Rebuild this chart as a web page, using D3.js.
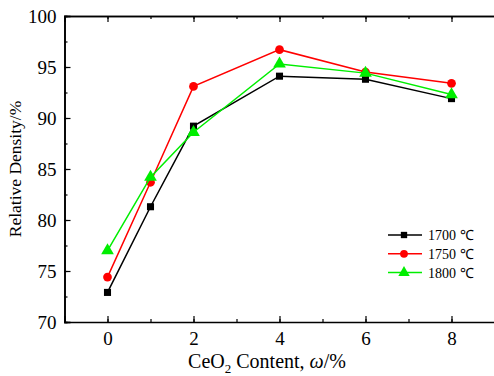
<!DOCTYPE html>
<html>
<head>
<meta charset="utf-8">
<script src="https://d3js.org/d3.v7.min.js"></script>
<style>
  body { margin: 0; background: #fff; }
</style>
</head>
<body>
<div id="chart"></div>
<script>
// CeO2 content (wt%)
const contents = [0, 1, 2, 4, 6, 8];
const series = ["1700 ℃", "1750 ℃", "1800 ℃"];
const density1700 = [72.9, 81.3, 89.2, 94.1, 93.8, 91.9];
const density1750 = [74.4, 83.7, 93.1, 96.7, 94.5, 93.4];
const density1800 = [77.0, 84.2, 88.6, 95.3, 94.4, 92.3];
const xTicks = [0, 2, 4, 6, 8];
const yTicks = [70, 75, 80, 85, 90, 95, 100];

const colors = ["#000000", "#ff0000", "#00ee00"];
const shapes = [d3.symbolSquare, d3.symbolCircle, d3.symbolTriangle];
const sizes = [50, 60, 70];
const values = [density1700, density1750, density1800];
const serif = "'Liberation Serif', 'Times New Roman', serif";

const width = 494, height = 376;
const margin = { top: 16, right: 0, bottom: 54, left: 64.5 };

const svg = d3.select("#chart").append("svg")
  .attr("width", width)
  .attr("height", height);

const x = d3.scaleLinear().domain([-1, 9]).range([margin.left, margin.left + 430]);
const y = d3.scaleLinear().domain([70, 100]).range([height - margin.bottom, margin.top]);

const minorX = d3.range(-1, 10, 1);
const minorY = d3.range(70, 100.1, 2.5);

// bottom axis
svg.append("g").attr("transform", `translate(0,${y(70)})`)
  .call(d3.axisBottom(x).tickValues(minorX).tickSize(-3).tickFormat(""))
  .call(g => g.select(".domain").remove());
svg.append("g").attr("transform", `translate(0,${y(70)})`)
  .call(d3.axisBottom(x).tickValues(xTicks).tickSize(-6).tickPadding(10).tickFormat(d3.format("d")));

// top axis (mirror ticks)
svg.append("g").attr("transform", `translate(0,${y(100)})`)
  .call(d3.axisTop(x).tickValues(minorX).tickSize(-3).tickFormat(""));
svg.append("g").attr("transform", `translate(0,${y(100)})`)
  .call(d3.axisTop(x).tickValues(xTicks).tickSize(-6).tickFormat(""));

// left axis
svg.append("g").attr("transform", `translate(${x(-1)},0)`)
  .call(d3.axisLeft(y).tickValues(minorY).tickSize(-3).tickFormat(""));
svg.append("g").attr("transform", `translate(${x(-1)},0)`)
  .call(d3.axisLeft(y).tickValues(yTicks).tickSize(-6).tickPadding(8).tickFormat(d3.format("d")));

svg.selectAll(".domain").attr("stroke", "#000").attr("stroke-width", 1.6);
svg.selectAll(".tick line").attr("stroke", "#000").attr("stroke-width", 1.2);
svg.selectAll(".tick text")
  .attr("fill", "#000")
  .style("font-family", serif)
  .style("font-size", "19px");

// lines and markers
const line = d3.line().x((d, i) => x(contents[i])).y(d => y(d));
values.forEach((vals, s) => {
  svg.append("path")
    .datum(vals)
    .attr("fill", "none")
    .attr("stroke", colors[s])
    .attr("stroke-width", 1.5)
    .attr("d", line);
  svg.append("g").selectAll("path")
    .data(vals)
    .join("path")
    .attr("transform", (d, i) => `translate(${x(contents[i])},${y(d)})`)
    .attr("d", d3.symbol().type(shapes[s]).size(sizes[s]))
    .attr("fill", colors[s]);
});

// legend
const legend = svg.append("g").attr("transform", "translate(388,235)");
series.forEach((name, s) => {
  const row = legend.append("g").attr("transform", `translate(0,${s * 18.8})`);
  row.append("line").attr("x1", 0).attr("x2", 34).attr("stroke", colors[s]).attr("stroke-width", 1.5);
  row.append("path").attr("transform", "translate(16,0)")
    .attr("d", d3.symbol().type(shapes[s]).size(sizes[s] * 0.8)).attr("fill", colors[s]);
  row.append("text").attr("x", 40).attr("dy", "0.35em")
    .style("font-family", serif).style("font-size", "14px").text(name);
});

// axis titles
svg.append("text")
  .attr("transform", `translate(21,${(y(70) + y(100)) / 2}) rotate(-90)`)
  .attr("text-anchor", "middle")
  .style("font-family", serif).style("font-size", "17.5px")
  .text("Relative Density/%");

const xt = svg.append("text")
  .attr("x", 267).attr("y", 368)
  .attr("text-anchor", "middle")
  .style("font-family", serif).style("font-size", "20px");
xt.append("tspan").text("CeO");
xt.append("tspan").style("font-size", "13px").attr("dy", 5).text("2");
xt.append("tspan").attr("dy", -5).text(" Content, ");
xt.append("tspan").style("font-style", "italic").text("ω");
xt.append("tspan").text("/%");
</script>
</body>
</html>
